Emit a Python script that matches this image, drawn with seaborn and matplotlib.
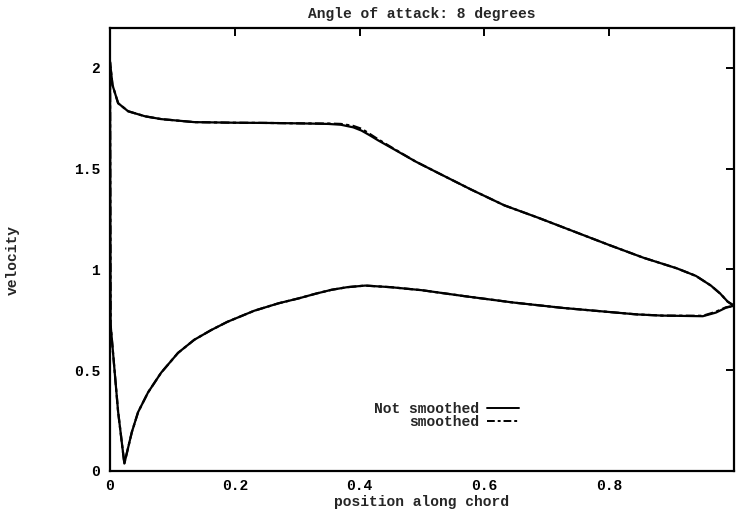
import matplotlib
matplotlib.use("Agg")
import matplotlib.pyplot as plt
from matplotlib.lines import Line2D
import seaborn as sns
import pandas as pd

# Upper surface (suction side), leading edge to trailing edge
upper_x = [0.0, 0.004, 0.013, 0.029, 0.056, 0.082, 0.135, 0.2, 0.25, 0.3,
           0.35, 0.37, 0.39, 0.403, 0.415, 0.43, 0.457, 0.49, 0.525, 0.579,
           0.632, 0.685, 0.743, 0.801, 0.855, 0.908, 0.939, 0.963, 0.978,
           0.99, 1.0]
upper_raw = [2.03, 1.915, 1.825, 1.785, 1.76, 1.746, 1.731, 1.728, 1.727, 1.725,
             1.722, 1.718, 1.705, 1.689, 1.668, 1.64, 1.593, 1.535, 1.48, 1.396,
             1.318, 1.258, 1.189, 1.12, 1.058, 1.006, 0.968, 0.92, 0.88,
             0.84, 0.82]
upper_smooth = [2.03, 1.915, 1.825, 1.785, 1.76, 1.746, 1.731, 1.728, 1.727, 1.725,
                1.724, 1.722, 1.712, 1.698, 1.675, 1.645, 1.595, 1.535, 1.48, 1.396,
                1.318, 1.258, 1.189, 1.12, 1.058, 1.006, 0.968, 0.92, 0.88,
                0.84, 0.82]

# Lower surface (pressure side), leading edge to trailing edge
lower_x = [0.0, 0.001, 0.013, 0.023, 0.035, 0.045, 0.061, 0.082, 0.109, 0.135,
           0.162, 0.188, 0.231, 0.27, 0.303, 0.33, 0.355, 0.38, 0.409, 0.45,
           0.5, 0.567, 0.646, 0.726, 0.844, 0.885, 0.95, 0.971, 0.987, 1.0]
lower_raw = [2.03, 0.725, 0.294, 0.037, 0.193, 0.292, 0.39, 0.488, 0.586, 0.651,
             0.699, 0.74, 0.795, 0.832, 0.857, 0.88, 0.899, 0.912, 0.92, 0.912,
             0.897, 0.868, 0.836, 0.809, 0.777, 0.771, 0.768, 0.786, 0.81, 0.82]
lower_smooth = [2.03, 0.725, 0.294, 0.037, 0.193, 0.292, 0.39, 0.488, 0.586, 0.651,
                0.699, 0.74, 0.795, 0.832, 0.857, 0.88, 0.899, 0.912, 0.92, 0.912,
                0.897, 0.868, 0.836, 0.809, 0.777, 0.771, 0.77, 0.79, 0.812, 0.82]

series_names = ["Not smoothed", "smoothed"]
x_ticks = [0, 0.2, 0.4, 0.6, 0.8]
x_tick_labels = ["0", "0.2", "0.4", "0.6", "0.8"]
y_ticks = [0, 0.5, 1.0, 1.5, 2.0]
y_tick_labels = ["0", "0.5", "1", "1.5", "2"]
title = "Angle of attack: 8 degrees"
x_label = "position along chord"
y_label = "velocity"

sns.set_style("white")
plt.rcParams["font.family"] = ["Liberation Mono", "DejaVu Sans Mono"]
plt.rcParams["font.weight"] = "bold"
plt.rcParams["font.size"] = 10.5

# One closed contour per series: trailing edge -> leading edge over the top, back underneath
rows = []
for name, up, lo in [(series_names[0], upper_raw, lower_raw),
                     (series_names[1], upper_smooth, lower_smooth)]:
    xs = upper_x[::-1] + lower_x[1:]
    ys = up[::-1] + lo[1:]
    for i, (xv, yv) in enumerate(zip(xs, ys)):
        rows.append({"x": xv, "v": yv, "series": name, "order": i})
df = pd.DataFrame(rows)

fig = plt.figure(figsize=(7.36, 5.18), dpi=100)
ax = fig.add_axes([110 / 736, 47 / 518, 624 / 736, 443.4 / 518])

styles = {series_names[0]: "-", series_names[1]: (0, (4, 1.5, 1.5, 1.5))}
for name in series_names:
    sub = df[df["series"] == name]
    sns.lineplot(data=sub, x="x", y="v", sort=False, estimator=None,
                 color="black", linewidth=1.6, linestyle=styles[name], ax=ax)

ax.set_xlim(0, 1)
ax.set_ylim(0, 2.2)
ax.set_xticks(x_ticks)
ax.set_xticklabels(x_tick_labels)
ax.set_yticks(y_ticks)
ax.set_yticklabels(y_tick_labels)
ax.tick_params(direction="in", length=6, width=1.4, top=True, right=True,
               labeltop=False, labelright=False, colors="black")
ax.tick_params(axis="x", pad=6)
ax.tick_params(axis="y", pad=7)
for sp in ax.spines.values():
    sp.set_visible(True)
    sp.set_color("black")
    sp.set_linewidth(1.6)

ax.set_title(title, pad=7, fontsize=10.5, fontweight="bold")
ax.set_xlabel(x_label, labelpad=1, fontweight="bold")
ax.set_ylabel(y_label, fontweight="bold")
ax.yaxis.set_label_coords(-0.144, 0.476)

handles = [Line2D([], [], color="black", linewidth=1.4, linestyle=styles[n])
           for n in series_names]
leg = ax.legend(handles, series_names, markerfirst=False, frameon=False,
                loc="upper right", bbox_to_anchor=(0.655, 0.155),
                handlelength=2.2, handletextpad=0.5, labelspacing=-0.1,
                borderpad=0, borderaxespad=0, fontsize=10.5)
for t in leg.get_texts():
    t.set_fontweight("bold")

fig.savefig("out.png", dpi=100, facecolor="white")
